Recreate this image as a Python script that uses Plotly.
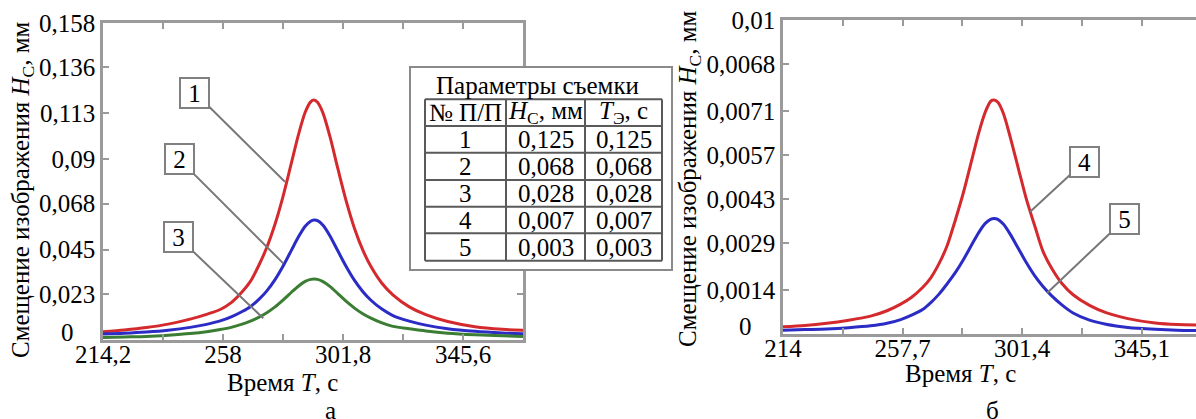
import plotly.graph_objects as go

W, H = 1196, 419
FONT = "Liberation Serif, Times New Roman, serif"

# ---------------- data: chart a ----------------
time_a = [214.2, 222, 230, 238, 246, 252, 257, 261, 265, 268, 271, 274, 277, 280, 283,
          285.5, 288, 290, 291.2, 292.5, 294.5, 297, 300, 303, 306, 309, 312, 316, 320,
          326, 332, 340, 350, 360, 367.5]
hc_1 = [0.0041, 0.0050, 0.0062, 0.0079, 0.0104, 0.0128, 0.0152, 0.0186, 0.0240, 0.0292,
        0.0370, 0.0462, 0.0578, 0.0720, 0.0884, 0.1021, 0.1135, 0.1187, 0.1196, 0.1185,
        0.1131, 0.1016, 0.0850, 0.0691, 0.0556, 0.0449, 0.0366, 0.0283, 0.0225, 0.0165,
        0.0126, 0.0092, 0.0066, 0.0053, 0.0048]
hc_2 = [0.0030, 0.0034, 0.0040, 0.0049, 0.0063, 0.0078, 0.0095, 0.0115, 0.0142, 0.0166,
        0.0201, 0.0245, 0.0301, 0.0370, 0.0448, 0.0513, 0.0567, 0.0592, 0.0598, 0.0595,
        0.0572, 0.0520, 0.0442, 0.0365, 0.0297, 0.0242, 0.0198, 0.0154, 0.0122, 0.0094,
        0.0074, 0.0056, 0.0043, 0.0035, 0.0031]
hc_3 = [0.0012, 0.0015, 0.0018, 0.0024, 0.0032, 0.0041, 0.0052, 0.0063, 0.0079, 0.0094,
        0.0113, 0.0136, 0.0165, 0.0200, 0.0238, 0.0268, 0.0292, 0.0302, 0.0304, 0.0302,
        0.0291, 0.0267, 0.0230, 0.0192, 0.0159, 0.0131, 0.0109, 0.0085, 0.0068, 0.0056,
        0.0045, 0.0034, 0.0026, 0.0021, 0.0018]

# ---------------- data: chart б ----------------
time_b = [214, 222, 230, 238, 246, 252, 257, 261, 265, 268, 271, 274, 277, 280, 283,
          285.5, 288, 290, 291.1, 292.5, 294.5, 297, 300, 303, 306, 309, 312, 316, 320,
          326, 332, 340, 350, 358, 364.9]
hc_4 = [0.00023, 0.00027, 0.00034, 0.00044, 0.00057, 0.00074, 0.00095, 0.00117, 0.00148,
        0.00179, 0.00224, 0.00282, 0.00364, 0.00453, 0.00555, 0.00640, 0.00709, 0.00742,
        0.00745, 0.00738, 0.00703, 0.00628, 0.00527, 0.00427, 0.00344, 0.00263, 0.00212,
        0.00160, 0.00125, 0.00091, 0.00068, 0.00049, 0.00035, 0.00030, 0.00029]
hc_5 = [0.00012, 0.00014, 0.00016, 0.00020, 0.00026, 0.00034, 0.00046, 0.00060, 0.00078,
        0.00100, 0.00127, 0.00160, 0.00196, 0.00238, 0.00285, 0.00323, 0.00353, 0.00366,
        0.00368, 0.00365, 0.00350, 0.00318, 0.00272, 0.00226, 0.00185, 0.00151, 0.00123,
        0.00092, 0.00067, 0.00044, 0.00031, 0.00021, 0.00015, 0.00012, 0.00011]

# ---------------- tick labels ----------------
xt_a_vals = [214.2, 258, 301.8, 345.6]
xt_a_text = ["214,2", "258", "301,8", "345,6"]
xt_a_minor = [236.1, 279.9, 323.7, 367.5]
yt_a_vals = [0.023, 0.045, 0.068, 0.09, 0.113, 0.136, 0.158]
yt_a_text = ["0,023", "0,045", "0,068", "0,09", "0,113", "0,136", "0,158"]
xt_b_vals = [214, 257.7, 301.4, 345.1]
xt_b_text = ["214", "257,7", "301,4", "345,1"]
xt_b_minor = [235.85, 279.55, 323.25]
yt_b_vals = [0.0014, 0.0029, 0.0043, 0.0057, 0.0071, 0.0086, 0.01]
yt_b_text = ["0,0014", "0,0029", "0,0043", "0,0057", "0,0071", "0,0068", "0,01"]
zero_label = "0"

# ---------------- table ----------------
table_title = "Параметры съемки"
table_head = ["№ П/П", "<i>H</i><sub>С</sub>, мм", "<i>T</i><sub>Э</sub>, с"]
table_num = ["1", "2", "3", "4", "5"]
table_hc = ["0,125", "0,068", "0,028", "0,007", "0,003"]
table_te = ["0,125", "0,068", "0,028", "0,007", "0,003"]

RED, BLUE, GREEN = "#d42a2e", "#2b2bc6", "#3b7d32"
FS = 25


def px(x):
    return x / W


def py(y):
    return 1 - y / H


fig = go.Figure()
for yy, col in [(hc_1, RED), (hc_2, BLUE), (hc_3, GREEN)]:
    fig.add_trace(go.Scatter(x=time_a, y=yy, mode="lines",
                             line=dict(color=col, width=3, shape="spline", smoothing=0.8),
                             xaxis="x", yaxis="y"))
for yy, col in [(hc_4, RED), (hc_5, BLUE)]:
    fig.add_trace(go.Scatter(x=time_b, y=yy, mode="lines",
                             line=dict(color=col, width=3, shape="spline", smoothing=0.8),
                             xaxis="x2", yaxis="y2"))

AX = dict(showgrid=False, zeroline=False, showline=True, linecolor="#9a9a9a", linewidth=2.5,
          ticks="inside", ticklen=6, tickwidth=2, tickcolor="#9a9a9a", automargin=False,
          tickfont=dict(family=FONT, size=FS, color="black"), tickmode="array")
MINOR = dict(ticks="inside", ticklen=6, tickwidth=2, tickcolor="#9a9a9a", tickmode="array", showgrid=False)

fig.update_layout(
    width=W, height=H, margin=dict(l=0, r=0, t=0, b=0, autoexpand=False),
    paper_bgcolor="white", plot_bgcolor="white", showlegend=False, hovermode=False,
    font=dict(family=FONT, size=FS, color="black"),
    xaxis=dict(AX, domain=[px(103), px(523)], range=[214.2, 367.5], tickvals=xt_a_vals,
               ticktext=xt_a_text, minor=dict(MINOR, tickvals=xt_a_minor), mirror="allticks",
               anchor="y", ticklabelstandoff=-10),
    yaxis=dict(AX, domain=[py(340), py(23)], range=[0, 0.158], tickvals=yt_a_vals,
               ticktext=yt_a_text, mirror="ticks", anchor="x"),
    xaxis2=dict(AX, domain=[px(783), 1.0], range=[214, 364.9], tickvals=xt_b_vals,
                ticktext=xt_b_text, minor=dict(MINOR, tickvals=xt_b_minor), mirror="allticks",
                anchor="y2", ticklabelstandoff=-10),
    yaxis2=dict(AX, domain=[py(334), py(20)], range=[0, 0.01], tickvals=yt_b_vals,
                ticktext=yt_b_text, mirror=False, anchor="x2"),
)

ann = []
def text(x, y, s, size=FS, angle=0, xanchor="center"):
    ann.append(dict(x=px(x), y=py(y), xref="paper", yref="paper", text=s, showarrow=False,
                    font=dict(family=FONT, size=size, color="black"), textangle=angle,
                    xanchor=xanchor, yanchor="middle"))

# zero labels and axis titles
text(67, 332, zero_label)
text(745, 326, zero_label)
text(22, 190, "Смещение изображения <i>H</i><sub>С</sub>, мм", FS, -90)
text(690, 178, "Смещение изображения <i>H</i><sub>С</sub>, мм", FS, -90)
text(282, 382, "Время <i>T</i>, с")
text(960, 373, "Время <i>T</i>, с")
text(330, 410, "а")
text(993, 410, "б")

# callout labels
def callout(label, xd, yd, xr, yr, ax, ay):
    ann.append(dict(x=xd, y=yd, xref=xr, yref=yr, ax=ax, ay=ay, axref="pixel", ayref="pixel",
                    text=label, showarrow=True, arrowhead=0, arrowwidth=2, arrowcolor="#777777",
                    font=dict(family=FONT, size=FS, color="black"), bgcolor="white",
                    bordercolor="#808080", borderwidth=2, borderpad=1, width=25, height=26))

callout("1", 280.6, 0.0789, "x", "y", -90, -89)
callout("2", 280.0, 0.0382, "x", "y", -104, -104)
callout("3", 272.7, 0.0108, "x", "y", -85, -81)
callout("4", 304.3, 0.00389, "x2", "y2", 54, -50)
callout("5", 310.4, 0.0013, "x2", "y2", 78, -74)

# table
shapes = []
shapes.append(dict(type="rect", xref="paper", yref="paper", x0=px(410), x1=px(672), y0=py(270), y1=py(67),
                   fillcolor="white", line=dict(color="#8a8a8a", width=2), layer="above"))
row_y = [99.3, 126, 152.7, 180, 206.7, 233.3, 260.7]
col_x = [425, 506, 585, 662]
for yy in row_y:
    shapes.append(dict(type="line", xref="paper", yref="paper", x0=px(col_x[0]), x1=px(col_x[-1]),
                       y0=py(yy), y1=py(yy), line=dict(color="#5a5a5a", width=2), layer="above"))
for xx in col_x:
    shapes.append(dict(type="line", xref="paper", yref="paper", x0=px(xx), x1=px(xx),
                       y0=py(row_y[0]), y1=py(row_y[-1]), line=dict(color="#5a5a5a", width=2), layer="above"))
fig.update_layout(shapes=shapes)

text(537, 85, table_title)
col_c = [(col_x[i] + col_x[i + 1]) / 2 for i in range(3)]
for i, h in enumerate(table_head):
    text(col_c[i], (row_y[0] + row_y[1]) / 2, h)
for r in range(5):
    yc = (row_y[r + 1] + row_y[r + 2]) / 2
    text(col_c[0], yc, table_num[r])
    text(col_c[1], yc, table_hc[r])
    text(col_c[2], yc, table_te[r])

fig.update_layout(annotations=ann)
fig.write_html("out.html", config={"displayModeBar": False},
               post_script="document.body.style.margin='0px';")
